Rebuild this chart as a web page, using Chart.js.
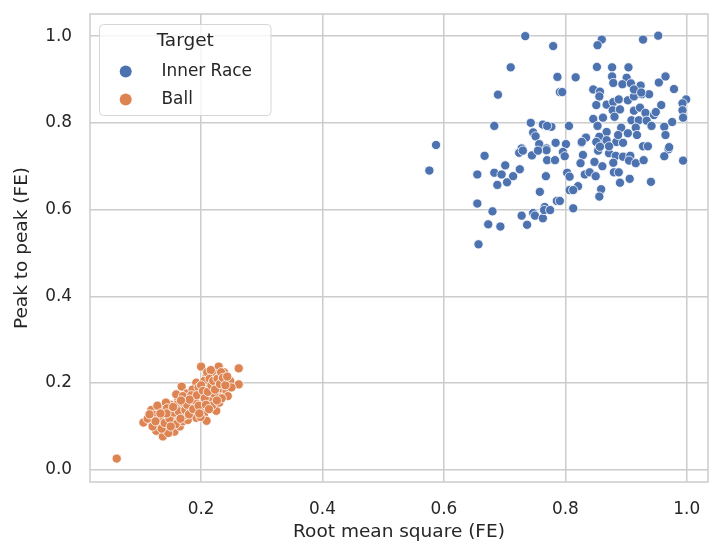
<!DOCTYPE html>
<html>
<head>
<meta charset="utf-8">
<script src="https://cdn.jsdelivr.net/npm/chart.js@4.4.1/dist/chart.umd.min.js"></script>
<style>
  html, body { margin: 0; padding: 0; background: #fff; }
  #wrap { width: 709px; height: 545px; }
</style>
</head>
<body>
<div id="wrap"><canvas id="chart" width="709" height="545"></canvas></div>
<script>
// Inner Race points: [rms, peak-to-peak]
const innerRace = [
  [0.734, 1.000], [0.780, 0.977], [0.710, 0.928], [0.787, 0.906], [0.689, 0.865], [0.791, 0.871],
  [0.683, 0.793], [0.743, 0.800], [0.763, 0.796], [0.777, 0.791], [0.770, 0.793], [0.747, 0.778],
  [0.751, 0.769], [0.587, 0.749], [0.757, 0.751], [0.784, 0.754], [0.769, 0.741], [0.728, 0.741],
  [0.667, 0.724], [0.576, 0.690], [0.655, 0.681], [0.683, 0.685], [0.695, 0.681], [0.701, 0.702],
  [0.688, 0.657], [0.704, 0.663], [0.714, 0.677], [0.725, 0.693], [0.724, 0.731], [0.730, 0.736],
  [0.745, 0.725], [0.769, 0.737], [0.755, 0.736], [0.770, 0.714], [0.783, 0.714], [0.768, 0.677],
  [0.758, 0.641], [0.786, 0.620], [0.655, 0.614], [0.680, 0.596], [0.673, 0.566], [0.693, 0.561],
  [0.657, 0.520], [0.728, 0.586], [0.737, 0.565], [0.747, 0.592], [0.750, 0.586], [0.763, 0.580],
  [0.766, 0.606], [0.765, 0.599], [0.775, 0.599],
  [0.801, 0.751], [0.827, 0.754], [0.796, 0.733], [0.799, 0.723], [0.829, 0.726], [0.854, 0.736],
  [0.872, 0.730], [0.883, 0.724], [0.895, 0.722], [0.907, 0.724], [0.928, 0.746], [0.936, 0.746],
  [0.970, 0.739], [0.963, 0.723], [0.994, 0.713], [0.825, 0.707], [0.848, 0.710], [0.861, 0.700],
  [0.879, 0.708], [0.905, 0.713], [0.916, 0.707], [0.929, 0.714], [0.803, 0.685], [0.807, 0.676],
  [0.832, 0.681], [0.840, 0.686], [0.850, 0.677], [0.880, 0.686], [0.888, 0.686], [0.890, 0.662],
  [0.906, 0.671], [0.941, 0.664], [0.821, 0.654], [0.807, 0.645], [0.813, 0.645], [0.859, 0.647],
  [0.856, 0.630], [0.791, 0.620], [0.813, 0.603], [0.856, 0.754], [0.868, 0.754], [0.884, 0.756],
  [0.895, 0.754],
  [0.860, 0.992], [0.853, 0.979], [0.928, 0.992], [0.953, 1.001], [0.852, 0.929], [0.877, 0.928],
  [0.904, 0.928], [0.877, 0.907], [0.817, 0.905], [0.901, 0.904], [0.879, 0.892], [0.894, 0.889],
  [0.908, 0.891], [0.924, 0.886], [0.954, 0.893], [0.965, 0.907], [0.979, 0.878], [0.795, 0.871],
  [0.846, 0.877], [0.857, 0.872], [0.856, 0.861], [0.851, 0.841], [0.868, 0.842], [0.879, 0.848],
  [0.888, 0.854], [0.903, 0.852], [0.913, 0.861], [0.926, 0.866], [0.938, 0.866], [0.913, 0.877],
  [0.999, 0.854], [0.993, 0.845], [0.993, 0.829], [0.994, 0.812], [0.958, 0.841], [0.878, 0.829],
  [0.890, 0.831], [0.913, 0.828], [0.923, 0.835], [0.932, 0.823], [0.946, 0.818], [0.862, 0.812],
  [0.881, 0.814], [0.846, 0.809], [0.909, 0.806], [0.921, 0.806], [0.934, 0.805], [0.976, 0.802],
  [0.806, 0.793], [0.853, 0.793], [0.892, 0.789], [0.916, 0.789], [0.942, 0.793], [0.963, 0.791],
  [0.868, 0.779], [0.887, 0.772], [0.903, 0.776], [0.918, 0.772], [0.965, 0.772], [0.856, 0.768],
  [0.868, 0.760], [0.834, 0.766], [0.827, 0.756], [0.971, 0.744], [0.851, 0.756], [0.925, 0.870],
  [0.949, 0.825], [0.872, 0.746], [0.857, 0.745]
];

// Ball points: [rms, peak-to-peak]
const ball = [
  [0.105, 0.109], [0.118, 0.138], [0.126, 0.090], [0.137, 0.077], [0.112, 0.118], [0.122, 0.127],
  [0.130, 0.105], [0.134, 0.140], [0.140, 0.118], [0.145, 0.098], [0.148, 0.130], [0.150, 0.150],
  [0.153, 0.112], [0.156, 0.088], [0.158, 0.140], [0.160, 0.122], [0.162, 0.158], [0.128, 0.148],
  [0.142, 0.155], [0.165, 0.100], [0.168, 0.132], [0.170, 0.112], [0.172, 0.148], [0.146, 0.085],
  [0.138, 0.128], [0.120, 0.100], [0.132, 0.118], [0.152, 0.125], [0.144, 0.142], [0.158, 0.105],
  [0.159, 0.174], [0.168, 0.192], [0.176, 0.176], [0.175, 0.160], [0.180, 0.140], [0.182, 0.168],
  [0.185, 0.125], [0.188, 0.150], [0.190, 0.182], [0.192, 0.120], [0.192, 0.201], [0.195, 0.160],
  [0.198, 0.140], [0.200, 0.175], [0.202, 0.155], [0.205, 0.130], [0.207, 0.190], [0.209, 0.113],
  [0.210, 0.165], [0.178, 0.115], [0.186, 0.185], [0.196, 0.190], [0.170, 0.170], [0.164, 0.145],
  [0.183, 0.155], [0.199, 0.122], [0.203, 0.148], [0.172, 0.125],
  [0.200, 0.238], [0.229, 0.238], [0.262, 0.234], [0.262, 0.197], [0.209, 0.216], [0.215, 0.205],
  [0.222, 0.222], [0.230, 0.215], [0.235, 0.200], [0.240, 0.210], [0.245, 0.195], [0.214, 0.179],
  [0.236, 0.179], [0.225, 0.136], [0.218, 0.160], [0.228, 0.170], [0.212, 0.195], [0.220, 0.190],
  [0.232, 0.188], [0.242, 0.182], [0.248, 0.205], [0.238, 0.225], [0.225, 0.200], [0.205, 0.205],
  [0.218, 0.148], [0.230, 0.155], [0.222, 0.175], [0.210, 0.225], [0.244, 0.170], [0.250, 0.190],
  [0.216, 0.230], [0.234, 0.165],
  [0.115, 0.128], [0.125, 0.112], [0.135, 0.095], [0.140, 0.108], [0.148, 0.118], [0.150, 0.100],
  [0.155, 0.132], [0.160, 0.150], [0.163, 0.135], [0.166, 0.118], [0.170, 0.155], [0.174, 0.138],
  [0.177, 0.150], [0.180, 0.128], [0.184, 0.172], [0.187, 0.140], [0.190, 0.160], [0.193, 0.172],
  [0.196, 0.148], [0.200, 0.195], [0.203, 0.182], [0.206, 0.165], [0.208, 0.150], [0.211, 0.180],
  [0.214, 0.210], [0.217, 0.195], [0.220, 0.205], [0.223, 0.185], [0.227, 0.210], [0.231, 0.198],
  [0.233, 0.225], [0.236, 0.212], [0.240, 0.195], [0.243, 0.215], [0.226, 0.160], [0.213, 0.140],
  [0.197, 0.130], [0.181, 0.162], [0.167, 0.160], [0.154, 0.145], [0.143, 0.130], [0.133, 0.130],
  [0.061, 0.026]
];

const xTicks = [0.2, 0.4, 0.6, 0.8, 1.0];
const yTicks = [0.0, 0.2, 0.4, 0.6, 0.8, 1.0];
const targets = ['Inner Race', 'Ball'];
const colors = ['#4c72b0', '#dd8452'];

const FONT = "'DejaVu Sans', sans-serif";
const TEXT = '#262626';
const GRID = '#cccccc';

// frame on all four sides, like the seaborn whitegrid spines
const framePlugin = {
  id: 'frame',
  beforeDatasetsDraw(chart) {
    const { ctx, chartArea: a } = chart;
    ctx.save();
    ctx.strokeStyle = GRID;
    ctx.lineWidth = 1.5;
    ctx.strokeRect(a.left, a.top, a.right - a.left, a.bottom - a.top);
    ctx.restore();
  }
};

// legend box inside the plot, top left
const legendPlugin = {
  id: 'innerLegend',
  afterDraw(chart) {
    const ctx = chart.ctx;
    const box = { x: 99.5, y: 24.5, w: 171.5, h: 91 };
    ctx.save();
    ctx.beginPath();
    ctx.roundRect(box.x, box.y, box.w, box.h, 4);
    ctx.fillStyle = 'rgba(255,255,255,0.8)';
    ctx.fill();
    ctx.strokeStyle = '#d6d6d6';
    ctx.lineWidth = 1;
    ctx.stroke();

    ctx.fillStyle = TEXT;
    ctx.font = '18.5px ' + FONT;
    ctx.textAlign = 'center';
    ctx.textBaseline = 'middle';
    ctx.fillText('Target', box.x + box.w / 2, 41);

    ctx.font = '16.9px ' + FONT;
    ctx.textAlign = 'left';
    targets.forEach((t, i) => {
      const cy = 71.5 + i * 28;
      ctx.beginPath();
      ctx.arc(125.7, cy, 6, 0, Math.PI * 2);
      ctx.fillStyle = colors[i];
      ctx.fill();
      ctx.fillStyle = TEXT;
      ctx.fillText(t, 161.5, cy);
    });
    ctx.restore();
  }
};

const toPoints = (arr) => arr.map(([x, y]) => ({ x, y }));

new Chart(document.getElementById('chart'), {
  type: 'scatter',
  data: {
    datasets: [
      { label: targets[0], data: toPoints(innerRace), backgroundColor: colors[0] },
      { label: targets[1], data: toPoints(ball), backgroundColor: colors[1] }
    ]
  },
  options: {
    responsive: false,
    animation: false,
    layout: { autoPadding: false, padding: { top: 14, right: 1, left: 0, bottom: 0 } },
    elements: {
      point: { radius: 4.6, borderWidth: 0.8, borderColor: '#ffffff', hoverRadius: 4.6 }
    },
    plugins: { legend: { display: false }, tooltip: { enabled: false } },
    scales: {
      x: {
        type: 'linear',
        min: 0.017,
        max: 1.035,
        afterFit(scale) {
          scale.height = 63;
          scale.paddingLeft = 0;
          scale.paddingRight = 0;
        },
        afterBuildTicks(scale) { scale.ticks = xTicks.map(v => ({ value: v })); },
        ticks: {
          padding: 17,
          color: TEXT,
          font: { family: FONT, size: 16.9 },
          callback: (v) => v.toFixed(1)
        },
        grid: { color: GRID, lineWidth: 1.5, drawTicks: false },
        border: { display: false },
        title: {
          display: true,
          text: 'Root mean square (FE)',
          color: TEXT,
          font: { family: FONT, size: 18.5, lineHeight: 1.2 },
          padding: { top: 0, bottom: 2 }
        }
      },
      y: {
        type: 'linear',
        min: -0.028,
        max: 1.051,
        afterFit(scale) {
          scale.width = 90;
          scale.paddingTop = 0;
          scale.paddingBottom = 0;
        },
        afterBuildTicks(scale) { scale.ticks = yTicks.map(v => ({ value: v })); },
        ticks: {
          padding: 18,
          color: TEXT,
          font: { family: FONT, size: 16.9 },
          callback: (v) => v.toFixed(1)
        },
        grid: { color: GRID, lineWidth: 1.5, drawTicks: false },
        border: { display: false },
        title: {
          display: true,
          text: 'Peak to peak (FE)',
          color: TEXT,
          font: { family: FONT, size: 18.5, lineHeight: 1.2 },
          padding: { top: 11, bottom: 0 }
        }
      }
    }
  },
  plugins: [framePlugin, legendPlugin]
});
</script>
</body>
</html>
